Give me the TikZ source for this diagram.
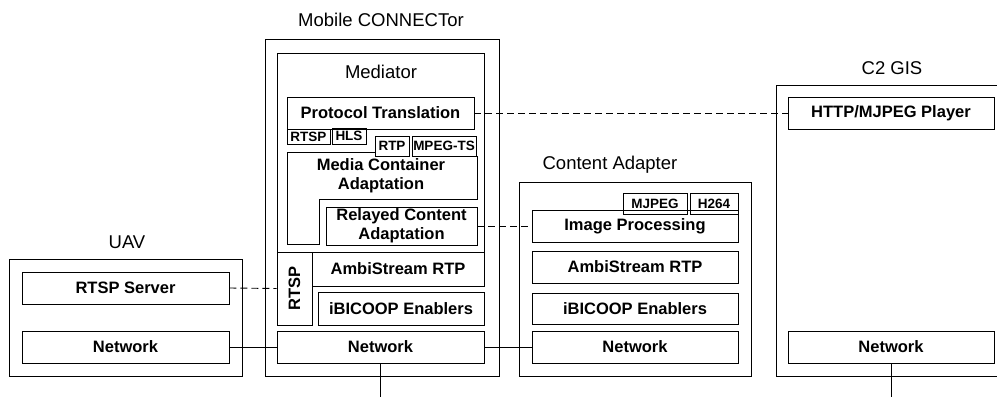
\documentclass[tikz,border=0pt]{standalone}
\usepackage{fontspec}
\setmainfont{Liberation Sans}
\begin{document}
\begin{tikzpicture}[x=1pt,y=-1pt,
  every path/.style={line width=0.9pt},
  box/.style={draw,line width=0.9pt,inner sep=0pt,font=\fontsize{16.5}{19}\selectfont\bfseries,align=center},
  sbox/.style={draw,line width=0.9pt,inner sep=0pt,font=\fontsize{13.5}{15}\selectfont\bfseries},
  frame/.style={draw,line width=0.9pt,inner sep=0pt},
  title/.style={font=\fontsize{18.5}{21}\selectfont,inner sep=0pt},
  dashedline/.style={dashed,dash pattern=on 7pt off 4pt,line width=0.9pt}]
\useasboundingbox (0,0) rectangle (997,397);
\newcommand\bx[7][box]{\node[#1,minimum width={#5-#3},minimum height={#6-#4}] (#2) at ({(#3+#5)/2},{(#4+#6)/2}) {#7};}
% outer frames
\bx[frame]{uav}{9}{259}{242}{376}{}
\bx[frame]{mc}{265}{39}{499}{376}{}
\bx[frame]{med}{277}{53}{484}{252}{}
\bx[frame]{ca}{519}{182}{751}{376}{}
\draw (997,85) -- (776,85) -- (776,376) -- (997,376);
% titles
\node[title] (tuav) at (127,242) {UAV};
\node[title] (tmc) at (381,20) {Mobile CONNECTor};
\node[title] (tmed) at (381,72) {Mediator};
\node[title] (tca) at (610,165) {Content Adapter};
\node[title] (tc2) at (892,68) {C2 GIS};
% UAV
\bx{rtspsrv}{22}{272}{229}{304}{RTSP Server}
\bx{uavnet}{22}{331}{229}{363}{Network}
% Mobile CONNECTor
\bx{pt}{287}{97}{474}{129}{Protocol Translation}
\bx[sbox]{rtsps}{287}{129}{330}{144}{RTSP}
\bx[sbox]{hls}{332}{128}{366}{144}{HLS}
\bx[sbox]{rtp}{375}{136}{409}{156}{RTP}
\bx[sbox]{mpegts}{412}{136}{476}{156}{MPEG-TS}
\draw (375,152) -- (287,152) -- (287,244) -- (319,244) -- (319,199) -- (477,199) -- (477,156);
\node[box,draw=none] (mca) at (381,176) {Media Container\\Adaptation};
\bx{rca}{326}{207}{477}{245}{Relayed Content\\Adaptation}
\node[box,rotate=90,minimum width=73,minimum height=35] (rtspv) at (294.5,288.5) {RTSP};
\bx{mcamb}{312}{252}{484}{286}{AmbiStream RTP}
\bx{mcib}{318}{292}{484}{325}{iBICOOP Enablers}
\bx{mcnet}{277}{331}{484}{363}{Network}
% Content Adapter
\bx{imgp}{532}{210}{738}{242}{Image Processing}
\bx[sbox]{mjpeg}{623}{193}{687}{214}{MJPEG}
\bx[sbox]{h264}{690}{193}{738}{214}{H264}
\bx{caamb}{532}{251}{738}{283}{AmbiStream RTP}
\bx{caib}{532}{293}{738}{324}{iBICOOP Enablers}
\bx{canet}{532}{331}{738}{363}{Network}
% C2 GIS
\bx{http}{788}{97}{994}{129}{HTTP/MJPEG Player}
\bx{c2net}{788}{331}{994}{363}{Network}
% connectors
\coordinate (mcbot) at (381,397);
\coordinate (c2bot) at (892,397);
\draw[dashedline] (rtspsrv.east) -- (rtspv.north);
\draw (uavnet.east) -- (mcnet.west);
\draw (mcnet.east) -- (canet.west);
\draw[dashedline] (pt.east) -- (http.west);
\draw[dashedline] (rca.east) -- (imgp.west);
\draw (mcnet.south) -- (mcnet.south |- mcbot);
\draw (c2net.south) -- (c2net.south |- c2bot);
\end{tikzpicture}
\end{document}
